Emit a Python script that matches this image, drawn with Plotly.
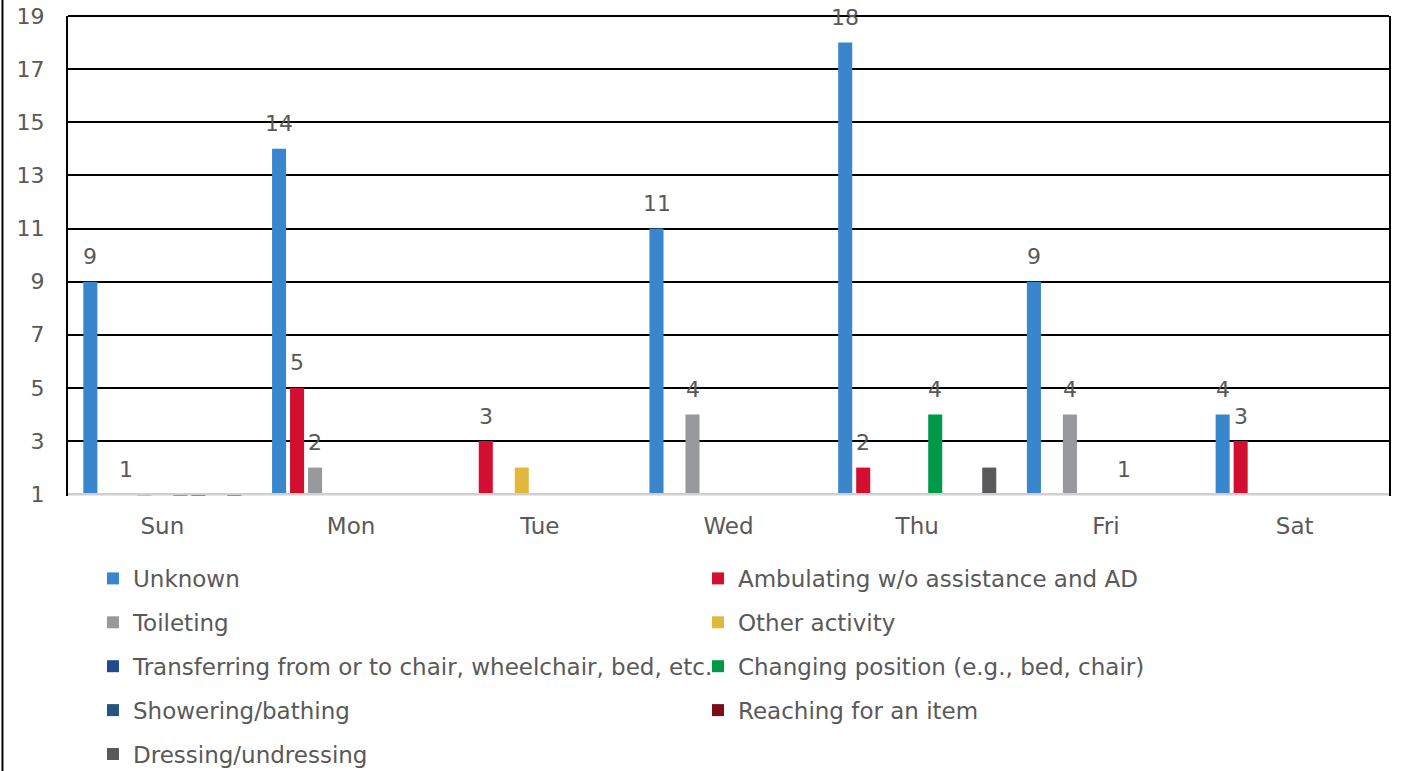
import plotly.graph_objects as go

# ---------------- data ----------------
days = ["Sun", "Mon", "Tue", "Wed", "Thu", "Fri", "Sat"]

series_names = [
    "Unknown",
    "Ambulating w/o assistance and AD",
    "Toileting",
    "Other activity",
    "Transferring from or to chair, wheelchair, bed, etc.",
    "Changing position (e.g., bed, chair)",
    "Showering/bathing",
    "Reaching for an item",
    "Dressing/undressing",
]

unknown = [9, 14, None, 11, 18, 9, 4]
ambulating = [None, 5, 3, None, 2, None, 3]
toileting = [1, 2, None, 4, None, 4, None]
other_activity = [0, None, 2, None, None, None, None]
transferring = [None, None, None, None, None, None, None]
changing_position = [0, None, None, None, 4, 1, None]
showering = [0, None, None, None, None, None, None]
reaching = [None, None, None, None, None, None, None]
dressing = [0, None, None, None, 2, None, None]

# which points carry a data label in the original
unknown_lbl = [1, 1, 0, 1, 1, 1, 1]
ambulating_lbl = [0, 1, 1, 0, 1, 0, 1]
toileting_lbl = [1, 1, 0, 1, 0, 1, 0]
other_lbl = [0, 0, 0, 0, 0, 0, 0]
transferring_lbl = [0, 0, 0, 0, 0, 0, 0]
changing_lbl = [0, 0, 0, 0, 1, 1, 0]
showering_lbl = [0, 0, 0, 0, 0, 0, 0]
reaching_lbl = [0, 0, 0, 0, 0, 0, 0]
dressing_lbl = [0, 0, 0, 0, 0, 0, 0]

y_ticks = [1, 3, 5, 7, 9, 11, 13, 15, 17, 19]

# ---------------- styling ----------------
values = [unknown, ambulating, toileting, other_activity, transferring,
          changing_position, showering, reaching, dressing]
labels = [unknown_lbl, ambulating_lbl, toileting_lbl, other_lbl, transferring_lbl,
          changing_lbl, showering_lbl, reaching_lbl, dressing_lbl]
colors = ["#3A86CD", "#D20F31", "#98999D", "#E0B93C", "#1E4C8F",
          "#00994A", "#24547F", "#7B0C1A", "#58595B"]
# two legend columns (row-major reading order like the original)
legend_of = ["legend", "legend2", "legend", "legend2", "legend",
             "legend2", "legend", "legend2", "legend"]

FONT = "DejaVu Sans"
TXT = "#595959"
FS = 22
AXIS_BASE = 1          # horizontal axis crosses at 1
BARGAP = 0.1415
GROUPGAP = 0.22

fig = go.Figure()
n = len(series_names)
for i, (name, vals) in enumerate(zip(series_names, values)):
    fig.add_trace(go.Bar(
        name=name,
        x=days,
        y=[None if v is None else v - AXIS_BASE for v in vals],
        base=AXIS_BASE,
        marker=dict(color=colors[i], line=dict(width=0)),
        legend=legend_of[i],
        legendgroup=f"g{i}",
        hoverinfo="skip",
    ))

# data labels above bars
slot = (1 - BARGAP) / n
annotations = []
for i, (vals, flags) in enumerate(zip(values, labels)):
    for d, (v, f) in enumerate(zip(vals, flags)):
        if v is None or not f:
            continue
        annotations.append(dict(
            x=d + (i - (n - 1) / 2) * slot, y=v, xref="x", yref="y",
            text=str(v), showarrow=False, yanchor="middle", yshift=25,
            font=dict(family=FONT, size=FS, color=TXT),
        ))

LEG_FONT = dict(family=FONT, size=23, color=TXT)
fig.update_layout(
    width=1408, height=771,
    margin=dict(l=68, r=19, t=16, b=275, autoexpand=False),
    paper_bgcolor="white", plot_bgcolor="white",
    barmode="group", bargap=BARGAP, bargroupgap=GROUPGAP,
    font=dict(family=FONT, size=FS, color=TXT),
    annotations=annotations,
    legend=dict(x=0.0189, y=-0.127, xanchor="left", yanchor="top",
                orientation="v", tracegroupgap=11, font=LEG_FONT,
                bgcolor="rgba(0,0,0,0)"),
    legend2=dict(x=0.4769, y=-0.127, xanchor="left", yanchor="top",
                 orientation="v", tracegroupgap=11, font=LEG_FONT,
                 bgcolor="rgba(0,0,0,0)"),
    shapes=[
        # light grey horizontal axis at the crossing value
        dict(type="line", xref="paper", yref="y", x0=0, x1=1,
             y0=AXIS_BASE, y1=AXIS_BASE, line=dict(color="#CFCFCF", width=2.5)),
        # top edge of the plot area
        dict(type="line", xref="paper", yref="paper", x0=0, x1=1,
             y0=1, y1=1, line=dict(color="black", width=2)),
        # outer chart-area border (left edge)
        dict(type="line", xref="paper", yref="paper", x0=-0.0496, x1=-0.0496,
             y0=-1.0, y1=1.1, line=dict(color="black", width=2)),
    ],
)

fig.update_xaxes(
    type="category", showgrid=False, showline=False, zeroline=False,
    ticks="outside", ticklen=9, tickcolor="rgba(0,0,0,0)",
    tickfont=dict(family=FONT, size=23, color=TXT),
)
fig.update_yaxes(
    range=[0.93, 19], tickvals=y_ticks, ticktext=[str(t) for t in y_ticks],
    showgrid=True, gridcolor="black", gridwidth=2, zeroline=False,
    showline=True, linecolor="black", linewidth=2, mirror=True,
    ticks="outside", ticklen=17, tickcolor="rgba(0,0,0,0)",
    tickfont=dict(family=FONT, size=FS, color=TXT),
)

fig.write_html("out.html")
